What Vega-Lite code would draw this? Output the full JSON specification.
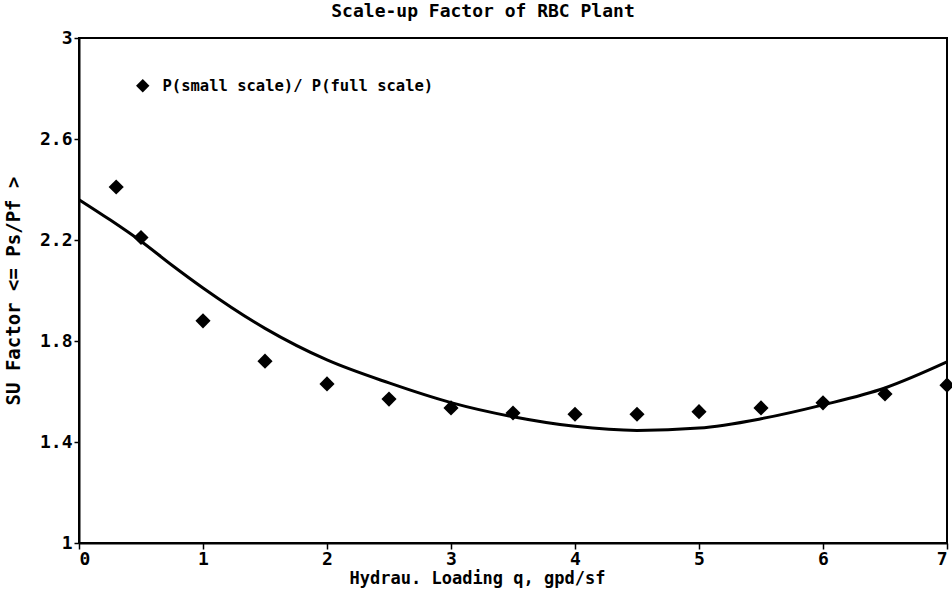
{
  "$schema": "https://vega.github.io/schema/vega-lite/v6.json",
  "width": 868,
  "height": 505,
  "autosize": "none",
  "padding": {"left": 79, "top": 38, "right": 5, "bottom": 57},
  "background": "white",
  "title": {
    "text": "Scale-up Factor of RBC Plant",
    "font": "DejaVu Sans Mono",
    "fontSize": 18,
    "fontWeight": "bold",
    "color": "black",
    "offset": 8,
    "anchor": "middle",
    "dx": -30
  },
  "config": {
    "view": {"stroke": "black", "strokeWidth": 2},
    "axis": {
      "labelFont": "DejaVu Sans Mono",
      "labelFontWeight": "bold",
      "labelFontSize": 18,
      "labelColor": "black",
      "titleFont": "DejaVu Sans Mono",
      "titleFontWeight": "bold",
      "titleFontSize": 17,
      "titleColor": "black",
      "domainColor": "black",
      "domainWidth": 2,
      "tickColor": "black",
      "tickWidth": 1.5,
      "grid": false
    }
  },
  "datasets": {
    "points": [
      {"q": 0.3, "su": 2.41},
      {"q": 0.5, "su": 2.21},
      {"q": 1.0, "su": 1.88},
      {"q": 1.5, "su": 1.72},
      {"q": 2.0, "su": 1.63},
      {"q": 2.5, "su": 1.57},
      {"q": 3.0, "su": 1.535},
      {"q": 3.5, "su": 1.515},
      {"q": 4.0, "su": 1.51},
      {"q": 4.5, "su": 1.51},
      {"q": 5.0, "su": 1.52},
      {"q": 5.5, "su": 1.535},
      {"q": 6.0, "su": 1.555},
      {"q": 6.5, "su": 1.59},
      {"q": 7.0, "su": 1.625}
    ],
    "curve": [
      {"q": 0.0, "su": 2.36},
      {"q": 0.25, "su": 2.28},
      {"q": 0.5, "su": 2.195},
      {"q": 0.75, "su": 2.1},
      {"q": 1.0, "su": 2.01},
      {"q": 1.5, "su": 1.85},
      {"q": 2.0, "su": 1.725},
      {"q": 2.5, "su": 1.634},
      {"q": 3.0, "su": 1.556},
      {"q": 3.5, "su": 1.5},
      {"q": 4.0, "su": 1.462},
      {"q": 4.5, "su": 1.446},
      {"q": 5.0, "su": 1.455},
      {"q": 5.5, "su": 1.492},
      {"q": 6.0, "su": 1.547},
      {"q": 6.5, "su": 1.614},
      {"q": 7.0, "su": 1.717}
    ]
  },
  "layer": [
    {
      "data": {"name": "curve"},
      "mark": {"type": "line", "color": "black", "strokeWidth": 3, "interpolate": "monotone", "clip": true},
      "encoding": {
        "x": {
          "field": "q", "type": "quantitative",
          "scale": {"domain": [0, 7], "nice": false},
          "axis": {"values": [0, 1, 2, 3, 4, 5, 6, 7], "format": "~g", "title": "Hydrau. Loading q, gpd/sf", "labelPadding": 1, "tickSize": 6, "titlePadding": 2, "titleX": 398}
        },
        "y": {
          "field": "su", "type": "quantitative",
          "scale": {"domain": [1, 3], "nice": false, "zero": false},
          "axis": {"values": [1, 1.4, 1.8, 2.2, 2.6, 3], "format": "~g", "title": "SU Factor <= Ps/Pf >", "titleFontSize": 19, "tickSize": 5, "labelPadding": 2, "titlePadding": 16}
        }
      }
    },
    {
      "data": {"name": "points"},
      "mark": {"type": "point", "filled": true, "color": "black", "size": 230, "opacity": 1},
      "encoding": {
        "x": {"field": "q", "type": "quantitative"},
        "y": {"field": "su", "type": "quantitative"},
        "shape": {
          "datum": "P(small scale)/ P(full scale)",
          "type": "nominal",
          "scale": {"range": ["diamond"]},
          "legend": {
            "title": null,
            "orient": "none",
            "legendX": 56,
            "legendY": 40,
            "labelFont": "DejaVu Sans Mono",
            "labelFontWeight": "bold",
            "labelFontSize": 15.5,
            "labelColor": "black",
            "labelLimit": 0,
            "symbolSize": 180,
            "symbolFillColor": "black",
            "symbolStrokeColor": "black",
            "labelOffset": 12
          }
        }
      }
    }
  ]
}
